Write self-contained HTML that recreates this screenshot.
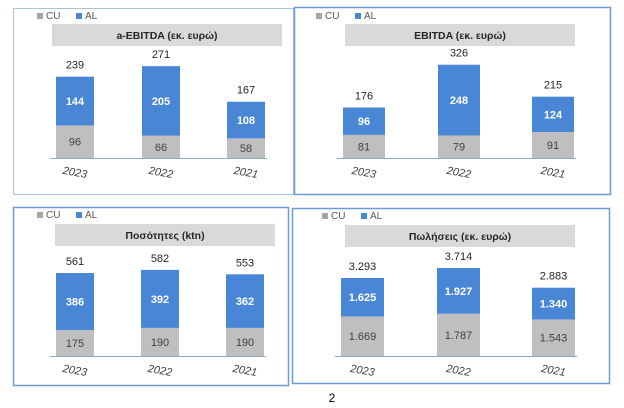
<!DOCTYPE html>
<html><head><meta charset="utf-8"><style>
body{margin:0;background:#fff;width:624px;height:408px;overflow:hidden;font-family:"Liberation Sans","DejaVu Sans",sans-serif}
svg{position:absolute;left:0;top:0}
</style></head><body>
<svg id="s" width="624" height="408"></svg>
<script>
const years=["2023","2022","2021"];
const ebitdaA_CU=[96,66,58], ebitdaA_AL=[144,205,108], ebitdaA_T=["239","271","167"];
const ebitda_CU=[81,79,91], ebitda_AL=[96,248,124], ebitda_T=["176","326","215"];
const qty_CU=[175,190,190], qty_AL=[386,392,362], qty_T=["561","582","553"];
const sales_CU=[1669,1787,1543], sales_AL=[1625,1927,1340], sales_T=["3.293","3.714","2.883"];
const sales_CUlbl=["1.669","1.787","1.543"], sales_ALlbl=["1.625","1.927","1.340"];
const NS="http://www.w3.org/2000/svg";
const svg=document.getElementById('s');
function el(t,a,p){const e=document.createElementNS(NS,t);for(const k in a)e.setAttribute(k,a[k]);(p||svg).appendChild(e);return e;}
function txt(x,y,s,a,p){const e=el('text',Object.assign({x:x,y:y,'text-anchor':'middle','font-size':11,fill:'#404040'},a),p);e.textContent=s;return e;}
function panel(o){
 const g=el('g',{});
 
 
 const b=el('rect',{x:o.x+.5,y:o.y+.5,width:o.w,height:o.h,fill:'none',stroke:o.stroke,'stroke-width':o.sw},g);
 
 const lg=el('g',{},g);
 el('rect',{x:o.lx,y:o.ly-6,width:6,height:6,fill:'#a5a5a5'},lg);
 txt(o.lx+9,o.ly,'CU',{'text-anchor':'start','font-size':10,fill:'#595959'},lg);
 el('rect',{x:o.lx+39,y:o.ly-6,width:6,height:6,fill:'#4a86d6'},lg);
 txt(o.lx+48,o.ly,'AL',{'text-anchor':'start','font-size':10,fill:'#595959'},lg);
 const tb=el('rect',{x:o.tx,y:o.ty,width:o.tw,height:22,fill:'#d9d9d9'},g);
 
 const tt=txt(o.tx+o.tw/2,o.ty+15,o.title,{'font-size':10.5,'font-weight':'bold',fill:'#262626'},g);
 
 const sy=v=>o.base-v*o.k;
 for(let i=0;i<3;i++){
  const x=o.bx[i],cu=o.cu[i],al=o.al[i];
  const r1=el('rect',{x:x,y:sy(cu),width:o.bw,height:o.base-sy(cu),fill:'#bfbfbf'},g);
  
  const r2=el('rect',{x:x,y:sy(cu+al),width:o.bw,height:sy(cu)-sy(cu+al),fill:'#4a86d6'},g);
  
  const cx=x+o.bw/2;
  txt(cx,(sy(cu)+o.base)/2+4,o.cuL?o.cuL[i]:String(cu),{fill:'#404040'},g);
  txt(cx,(sy(cu)+sy(cu+al))/2+4,o.alL?o.alL[i]:String(al),{fill:'#fff','font-weight':'bold'},g);
  txt(cx,sy(cu+al)-8,o.tot[i],{fill:'#262626'},g);
  const yl=txt(cx,o.base+18,years[i],{'font-style':'italic','font-size':11,fill:'#404040',transform:'rotate(10 '+cx+' '+(o.base+14)+')'},g);
  
 }
 el('line',{x1:o.bx[0]-6,x2:o.bx[2]+o.bw+2,y1:o.base+.5,y2:o.base+.5,stroke:'#8ea9c8','stroke-width':1},g);
}
panel({name:'a-ebitda-chart',x:13,y:8,w:280,h:186,stroke:'#a9c3e0',sw:1,lx:37,ly:19,tx:52,ty:24,tw:230,title:'a-EBITDA (εκ. ευρώ)',bx:[56,142,227],bw:38,base:158,k:81/239,cu:ebitdaA_CU,al:ebitdaA_AL,tot:ebitdaA_T});
panel({name:'ebitda-chart',x:294,y:7,w:316,h:187,stroke:'#6f9bd0',sw:1.5,lx:316,ly:19,tx:345,ty:24,tw:230,title:'EBITDA (εκ. ευρώ)',bx:[343,438,532],bw:42,base:158,k:93/326,cu:ebitda_CU,al:ebitda_AL,tot:ebitda_T});
panel({name:'quantities-chart',x:13,y:207,w:275,h:178,stroke:'#6f9bd0',sw:1.5,lx:37,ly:218,tx:55,ty:224,tw:220,title:'Ποσότητες (ktn)',bx:[56,141,226],bw:38,base:356,k:83/561,cu:qty_CU,al:qty_AL,tot:qty_T});
panel({name:'sales-chart',x:292,y:208,w:317,h:175,stroke:'#6f9bd0',sw:1.5,lx:322,ly:219,tx:345,ty:225,tw:230,title:'Πωλήσεις (εκ. ευρώ)',bx:[341,437,532],bw:43,base:356,k:78/3293,cu:sales_CU,al:sales_AL,tot:sales_T,cuL:sales_CUlbl,alL:sales_ALlbl});
const pn=txt(332,402,'2',{'font-size':12,fill:'#000'});

</script>
</body></html>
